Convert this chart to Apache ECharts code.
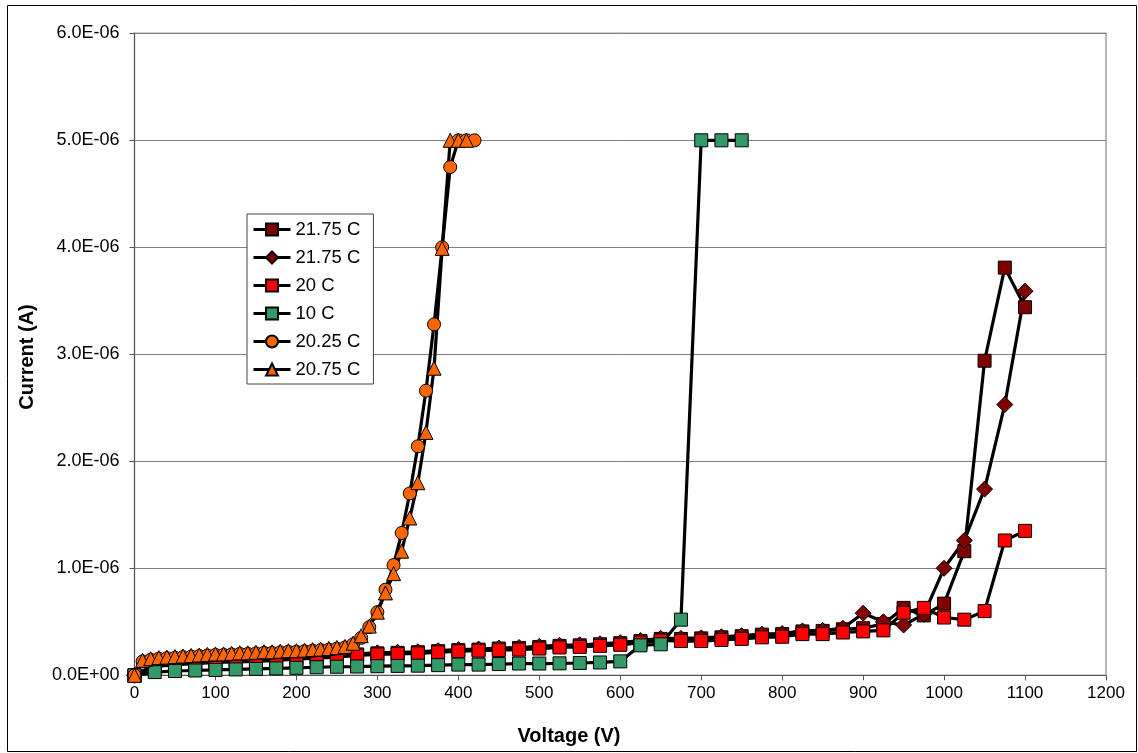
<!DOCTYPE html>
<html><head><meta charset="utf-8">
<script src="https://cdn.jsdelivr.net/npm/echarts@6/dist/echarts.min.js"></script>
<style>html,body{margin:0;padding:0;background:#fff}#c{width:1138px;height:753px}</style>
</head><body><div id="c"></div>
<script>
// Values in micro-amps (1E-06 A)
const xTickLabels = ['0','100','200','300','400','500','600','700','800','900','1000','1100','1200'];

const sqA_V = [0,25,50,75,100,125,150,175,200,225,250,275,300,325,350,375,400,425,450,475,500,525,550,575,600,625,650,675,700,725,750,775,800,825,850,875,900,925,950,975,1000,1025,1050,1075,1100];
const sqA_I = [0,0.09,0.11,0.12,0.13,0.135,0.14,0.15,0.16,0.17,0.18,0.195,0.205,0.21,0.215,0.225,0.235,0.24,0.25,0.255,0.265,0.275,0.28,0.29,0.30,0.32,0.34,0.34,0.345,0.355,0.365,0.38,0.385,0.41,0.415,0.43,0.44,0.48,0.63,0.56,0.67,1.16,2.94,3.81,3.44];

const diaB_V = [0,25,50,75,100,125,150,175,200,225,250,275,300,325,350,375,400,425,450,475,500,525,550,575,600,625,650,675,700,725,750,775,800,825,850,875,900,925,950,975,1000,1025,1050,1075,1100];
const diaB_I = [0,0.1,0.12,0.13,0.14,0.145,0.15,0.16,0.17,0.18,0.19,0.2,0.21,0.215,0.22,0.23,0.24,0.245,0.255,0.26,0.27,0.28,0.285,0.295,0.305,0.325,0.345,0.345,0.35,0.36,0.37,0.385,0.39,0.415,0.42,0.44,0.58,0.50,0.47,0.57,1.0,1.26,1.74,2.53,3.59];

const red_V = [0,25,50,75,100,125,150,175,200,225,250,275,300,325,350,375,400,425,450,475,500,525,550,575,600,625,650,675,700,725,750,775,800,825,850,875,900,925,950,975,1000,1025,1050,1075,1100];
const red_I = [0,0.08,0.10,0.11,0.12,0.125,0.13,0.14,0.15,0.16,0.17,0.185,0.195,0.20,0.205,0.215,0.225,0.23,0.235,0.24,0.25,0.26,0.265,0.275,0.285,0.305,0.325,0.32,0.32,0.33,0.34,0.355,0.36,0.385,0.385,0.40,0.41,0.42,0.585,0.63,0.54,0.52,0.60,1.26,1.35];

const grn_V = [0,25,50,75,100,125,150,175,200,225,250,275,300,325,350,375,400,425,450,475,500,525,550,575,600,625,650,675,700,725,750];
const grn_I = [0,0.03,0.04,0.045,0.05,0.055,0.06,0.065,0.07,0.075,0.08,0.082,0.085,0.088,0.09,0.095,0.10,0.10,0.105,0.11,0.11,0.112,0.115,0.12,0.13,0.28,0.29,0.52,5.0,5.0,5.0];

const cir_V = [0,10,20,30,40,50,60,70,80,90,100,110,120,130,140,150,160,170,180,190,200,210,220,230,240,250,260,270,280,290,300,310,320,330,340,350,360,370,380,390,400,410,420];
const cir_I = [0,0.13,0.145,0.155,0.16,0.165,0.17,0.175,0.18,0.185,0.19,0.19,0.195,0.20,0.20,0.205,0.21,0.21,0.215,0.22,0.22,0.225,0.23,0.235,0.24,0.25,0.26,0.29,0.35,0.45,0.59,0.80,1.03,1.33,1.70,2.14,2.66,3.28,4.0,4.75,5.0,5.0,5.0];

const tri_V = [0,10,20,30,40,50,60,70,80,90,100,110,120,130,140,150,160,170,180,190,200,210,220,230,240,250,260,270,280,290,300,310,320,330,340,350,360,370,380,390,400,410];
const tri_I = [0,0.14,0.155,0.165,0.17,0.175,0.18,0.185,0.19,0.195,0.20,0.20,0.205,0.21,0.21,0.215,0.22,0.22,0.225,0.23,0.23,0.235,0.24,0.245,0.25,0.26,0.27,0.30,0.37,0.46,0.59,0.77,0.95,1.16,1.47,1.80,2.27,2.87,3.99,5.0,5.0,5.0];

const names = ['21.75 C','21.75 C ','20 C','10 C','20.25 C','20.75 C'];

function pairs(vs, is){ return vs.map((v,k)=>[v, is[k]*1e-6]); }
function fmtE(v){
  if (Math.abs(v) < 1e-15) return '0.0E+00';
  const s = v.toExponential(1);
  const parts = s.split('e');
  const sign = parts[1][0];
  const d = parts[1].slice(1).padStart(2,'0');
  return parts[0] + 'E' + sign + d;
}
const FONT = '"Liberation Sans", Arial, sans-serif';

function mk(name, data, symbol, size, color){
  return {
    name, type:'line', data, symbol, symbolSize:size,
    showAllSymbol:true, animation:false,
    lineStyle:{color:'#000', width:3.2},
    itemStyle:{color:color, borderColor:'#000', borderWidth:1},
    emphasis:{disabled:true}
  };
}

const chart = echarts.init(document.getElementById('c'), null, {renderer:'canvas'});
chart.setOption({
  animation:false,
  backgroundColor:'#fff',
  grid:{left:134.5, top:33.3, right:32, bottom:77.7, show:true, borderColor:'#a0a0a0', borderWidth:1.5, backgroundColor:'transparent'},
  xAxis:{
    type:'value', min:0, max:1200, interval:100,
    axisLine:{show:true, onZero:false, lineStyle:{color:'#555', width:1}},
    axisTick:{show:true, length:5, lineStyle:{color:'#555'}},
    splitLine:{show:false},
    axisLabel:{color:'#000', fontFamily:FONT, fontSize:17, margin:10,
      formatter:(v)=>{const k=Math.round(v/100); return xTickLabels[k]!==undefined?xTickLabels[k]:String(v);}}
  },
  yAxis:{
    type:'value', min:0, max:6e-6, interval:1e-6,
    axisLine:{show:true, onZero:false, lineStyle:{color:'#555', width:1}},
    axisTick:{show:true, length:5, lineStyle:{color:'#555'}},
    splitLine:{show:true, lineStyle:{color:'#808080', width:1}},
    axisLabel:{color:'#000', fontFamily:FONT, fontSize:18, margin:15, formatter:fmtE}
  },
  legend:{
    orient:'vertical', left:247, top:214,
    backgroundColor:'#fff', borderColor:'#444', borderWidth:1, borderRadius:0,
    padding:[6,8,5,5], itemGap:9, itemWidth:37, itemHeight:15,
    textStyle:{fontFamily:FONT, fontSize:18.5, color:'#000'},
    lineStyle:{color:'#000', width:3},
    data:names,
    selectedMode:false
  },
  graphic:[
    {type:'rect', shape:{x:7.5, y:5.5, width:1129, height:746}, style:{fill:'none', stroke:'#000', lineWidth:1}, silent:true, z:-1},
    {type:'text', left:'center', top:726, style:{text:'Voltage (V)', font:'bold 20px '+FONT, fill:'#000'}, silent:true},
    {type:'text', x:27, y:357, rotation:Math.PI/2, style:{text:'Current (A)', font:'bold 20px '+FONT, fill:'#000', align:'center', verticalAlign:'middle'}, silent:true}
  ],
  series:[
    mk(names[0], pairs(sqA_V, sqA_I), 'rect', 13, '#800000'),
    mk(names[1], pairs(diaB_V, diaB_I), 'diamond', 16, '#800000'),
    mk(names[2], pairs(red_V, red_I), 'rect', 13, '#FF0000'),
    mk(names[3], pairs(grn_V, grn_I), 'rect', 13, '#339966'),
    mk(names[4], pairs(cir_V, cir_I), 'circle', 13, '#FF6600'),
    mk(names[5], pairs(tri_V, tri_I), 'triangle', [14,14], '#FF6600')
  ]
});
</script></body></html>
